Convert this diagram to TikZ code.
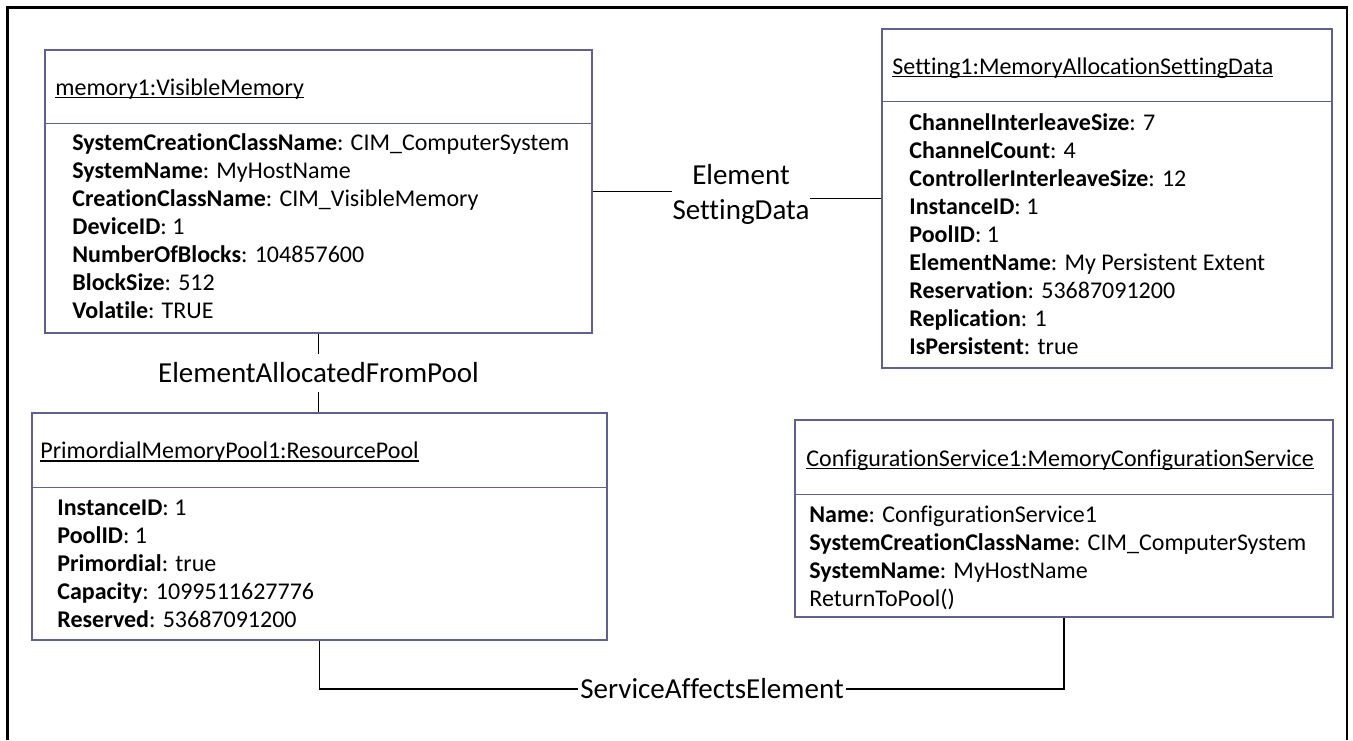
\documentclass[tikz,border=0pt]{standalone}
\usepackage{fontspec}
\setmainfont{Carlito}[Ligatures={NoCommon}]
\definecolor{boxc}{RGB}{96,96,150}
\newcommand\ulin[1]{\setbox0\hbox{#1}\rlap{\rule[-1.5pt]{\wd0}{0.55pt}}\box0}
\newcommand\attrlist[5]{%
  \foreach \txt [count=\i from 0] in {#5} {%
    \node[attr] (#1\i) at (#2,{#3+\i*#4}) {\txt};
  }}
\begin{document}
\begin{tikzpicture}[x=0.5pt,y=-0.5pt,
  umlbox/.style={draw=boxc, line width=0.75pt, fill=white, inner sep=0pt, rectangle},
  divline/.style={draw=boxc, line width=0.75pt},
  ttl/.style={font=\fontsize{12}{14}\selectfont, inner sep=0pt, anchor=base west},
  attr/.style={font=\fontsize{12}{14}\selectfont, inner sep=0pt, anchor=base west},
  lbl/.style={font=\fontsize{14.5}{17.5}\selectfont, inner sep=0pt},
  conn/.style={draw=black, line width=0.6pt},
  frame/.style={draw=black, line width=1.15pt}]
\useasboundingbox (0,0) rectangle (1353,740);
\draw[frame] (7.5,740) -- (7.5,7.5) -- (1347,7.5) -- (1347,740);

% memory1
\node[umlbox, minimum width=273.5pt, minimum height=141.5pt] (m1) at (318.5,191.5) {};
\draw[divline] ([yshift=-37pt]m1.north west) -- ([yshift=-37pt]m1.north east);
\node[ttl] (m1t) at (55,95) {\ulin{memory1:VisibleMemory}};
\attrlist{m1a}{72}{150}{28}{{\textbf{SystemCreationClassName}: CIM\_ComputerSystem},
  {\textbf{SystemName}: MyHostName},
  {\textbf{CreationClassName}: CIM\_VisibleMemory},
  {\textbf{DeviceID}: 1},
  {\textbf{NumberOfBlocks}: 104857600},
  {\textbf{BlockSize}: 512},
  {\textbf{Volatile}: TRUE}}

% Setting1
\node[umlbox, minimum width=225pt, minimum height=169.5pt] (s1) at (1107,198.5) {};
\draw[divline] ([yshift=-36.5pt]s1.north west) -- ([yshift=-36.5pt]s1.north east);
\node[ttl] (s1t) at (892,74) {\ulin{Setting1:MemoryAllocationSettingData}};
\attrlist{s1a}{909}{130}{28}{{\textbf{ChannelInterleaveSize}: 7},
  {\textbf{ChannelCount}: 4},
  {\textbf{ControllerInterleaveSize}: 12},
  {\textbf{InstanceID}: 1},
  {\textbf{PoolID}: 1},
  {\textbf{ElementName}: My Persistent Extent},
  {\textbf{Reservation}: 53687091200},
  {\textbf{Replication}: 1},
  {\textbf{IsPersistent}: true}}

% PrimordialMemoryPool1
\node[umlbox, minimum width=287.5pt, minimum height=113.5pt] (p1) at (319.5,526.5) {};
\draw[divline] ([yshift=-37.5pt]p1.north west) -- ([yshift=-37.5pt]p1.north east);
\node[ttl] (p1t) at (40,458.5) {\ulin{PrimordialMemoryPool1:ResourcePool}};
\attrlist{p1a}{57}{515}{28}{{\textbf{InstanceID}: 1},
  {\textbf{PoolID}: 1},
  {\textbf{Primordial}: true},
  {\textbf{Capacity}: 1099511627776},
  {\textbf{Reserved}: 53687091200}}

% ConfigurationService1
\node[umlbox, minimum width=269pt, minimum height=98.5pt] (c1) at (1064,518.5) {};
\draw[divline] ([yshift=-37.5pt]c1.north west) -- ([yshift=-37.5pt]c1.north east);
\node[ttl] (c1t) at (806,466) {\ulin{ConfigurationService1:MemoryConfigurationService}};
\attrlist{c1a}{809}{522}{28}{{\textbf{Name}: ConfigurationService1},
  {\textbf{SystemCreationClassName}: CIM\_ComputerSystem},
  {\textbf{SystemName}: MyHostName},
  {ReturnToPool()}}

% association labels
\node[lbl, align=center, anchor=north] (esd) at (741,164) {Element\\SettingData};
\node[lbl, anchor=base, text height=14pt, text depth=5pt] (eafp) at (318.5,382) {ElementAllocatedFromPool};
\node[lbl, anchor=base, text height=9pt, text depth=0pt, inner xsep=1pt] (sae) at (712,698) {ServiceAffectsElement};

% connectors
\draw[conn] (m1.east) -- (m1.east -| esd.west);
\draw[conn] (s1.west) -- (s1.west -| esd.east);
\draw[conn] (m1.south) -- (eafp.north);
\draw[conn] (eafp.south) -- (eafp.south |- p1.north);
\draw[conn] (p1.south) |- (sae.west);
\draw[conn] (sae.east) -| (c1.south);
\end{tikzpicture}
\end{document}
